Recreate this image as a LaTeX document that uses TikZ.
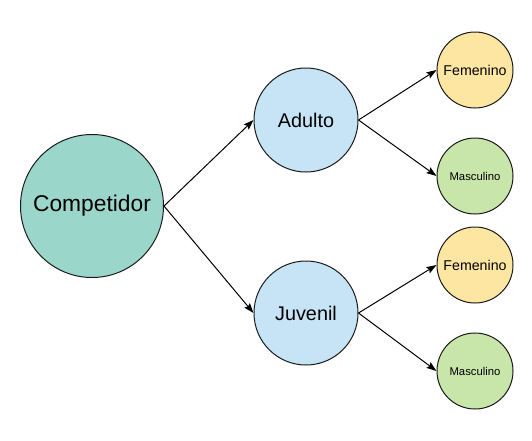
\documentclass[tikz,border=0pt]{standalone}
\usepackage{fontspec}
\setmainfont{Liberation Sans}
\usetikzlibrary{arrows.meta,positioning}
\definecolor{cteal}{HTML}{9BD6CB}
\definecolor{cblue}{HTML}{C6E4F6}
\definecolor{cyellow}{HTML}{FDE6A2}
\definecolor{cgreen}{HTML}{C9E6AA}
\definecolor{cline}{HTML}{1A1A1A}
\tikzset{
  bola/.style={circle,draw=cline,line width=1pt,inner sep=0pt,align=center},
  raiz/.style={bola,fill=cteal,minimum size=143pt,font=\fontsize{22.8}{26}\selectfont},
  cat/.style={bola,fill=cblue,minimum size=104pt,font=\fontsize{19.8}{23}\selectfont},
  fem/.style={bola,fill=cyellow,minimum size=76pt,font=\fontsize{14.2}{17}\selectfont},
  masc/.style={bola,fill=cgreen,minimum size=76pt,font=\fontsize{11.3}{14}\selectfont},
  arr/.style={-{Stealth[length=10pt,width=7pt,inset=1.5pt]},line width=1pt,draw=black},
}
\begin{document}
\begin{tikzpicture}[x=1pt,y=-1pt]
  \useasboundingbox (0,0) rectangle (532,440);
  % raiz
  \node[raiz] (comp) at (92,206) {Competidor};
  % categorias
  \node[cat] (adulto) at (306,120) {Adulto};
  \node[cat] (juvenil) at (306,313) {Juvenil};
  % sexo
  \node[fem] (fa) at (475,70) {Femenino};
  \node[masc] (ma) at (475,176) {Masculino};
  \node[fem] (fj) at (475,265) {Femenino};
  \node[masc] (mj) at (475,371) {Masculino};
  \draw[arr] (comp.east) -- (adulto.west);
  \draw[arr] (comp.east) -- (juvenil.west);
  \draw[arr] (adulto.east) -- (fa.west);
  \draw[arr] (adulto.east) -- (ma.west);
  \draw[arr] (juvenil.east) -- (fj.west);
  \draw[arr] (juvenil.east) -- (mj.west);
\end{tikzpicture}
\end{document}
